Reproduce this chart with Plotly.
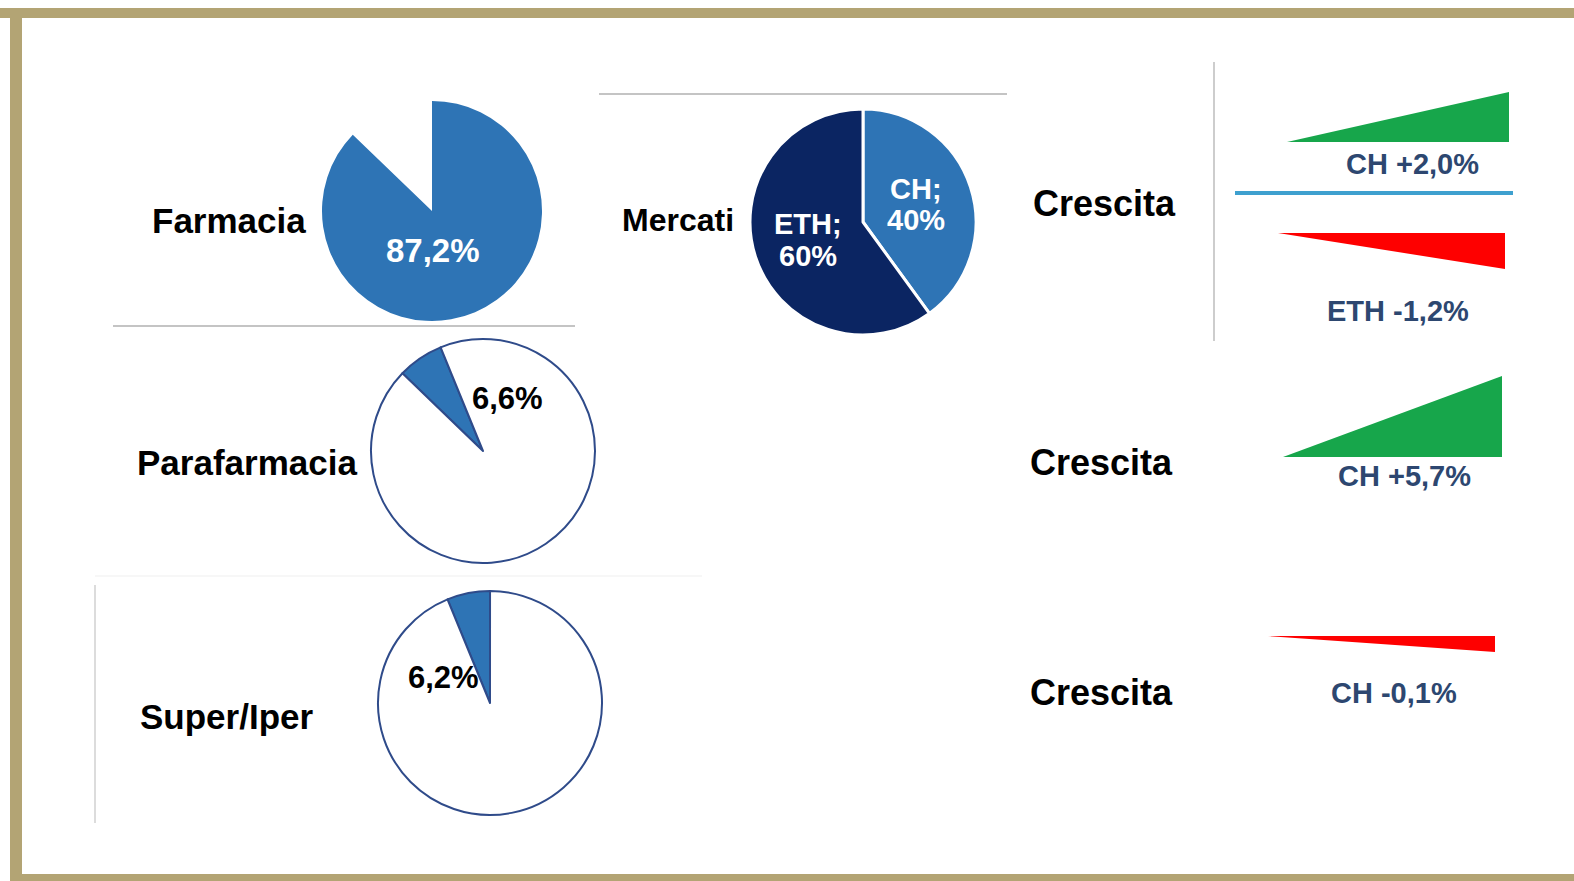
import plotly.graph_objects as go

W, H = 1574, 881

# ---------------- data ----------------
farmacia_labels = ["Farmacia", "Altro"]
farmacia_values = [87.2, 12.8]

mercati_labels = ["CH", "ETH"]
mercati_values = [40, 60]

parafarmacia_labels = ["Parafarmacia", "Altro"]
parafarmacia_values = [6.6, 93.4]

super_labels = ["Super/Iper", "Altro"]
super_values = [6.2, 93.8]

growth_labels = ["CH +2,0%", "ETH -1,2%", "CH +5,7%", "CH -0,1%"]
growth_values = [2.0, -1.2, 5.7, -0.1]

# ---------------- style / positions ----------------
BLUE = "#2e74b5"
NAVY = "#0b2562"
OUTLINE = "#2f4b8a"
GREEN = "#17a64b"
RED = "#fe0000"
GTEXT = "#2d4770"
FONT = "Liberation Sans, Arial, sans-serif"

def dom(cx, cy, r):
    return dict(x=[(cx - r) / W, (cx + r) / W], y=[1 - (cy + r) / H, 1 - (cy - r) / H])

fig = go.Figure()

fig.add_trace(go.Pie(labels=farmacia_labels, values=farmacia_values, sort=False,
                     direction="clockwise", rotation=0, textinfo="none", hoverinfo="label+percent",
                     marker=dict(colors=[BLUE, "rgba(0,0,0,0)"], line=dict(width=0)),
                     domain=dom(432, 211, 110), showlegend=False))

fig.add_trace(go.Pie(labels=mercati_labels, values=mercati_values, sort=False,
                     direction="clockwise", rotation=0, textinfo="none",
                     marker=dict(colors=[BLUE, NAVY], line=dict(color="white", width=3)),
                     domain=dom(863, 222, 113), showlegend=False))

fig.add_trace(go.Pie(labels=parafarmacia_labels, values=parafarmacia_values, sort=False,
                     direction="clockwise", rotation=-46, textinfo="none",
                     marker=dict(colors=[BLUE, "white"], line=dict(color=OUTLINE, width=2)),
                     domain=dom(483, 451, 112), showlegend=False))

fig.add_trace(go.Pie(labels=super_labels, values=super_values, sort=False,
                     direction="clockwise", rotation=-22.3, textinfo="none",
                     marker=dict(colors=[BLUE, "white"], line=dict(color=OUTLINE, width=2)),
                     domain=dom(490, 703, 112), showlegend=False))

# growth wedges: (x_left, x_right, y_base, height) in pixels
wedge_geom = [
    (1287, 1509, 142, 50),
    (1278, 1505, 233, 36),
    (1283, 1502, 457, 81),
    (1268, 1495, 636, 16),
]
for (xl, xr, yb, h), v, lab in zip(wedge_geom, growth_values, growth_labels):
    if v >= 0:
        xs = [xl, xr, xr, xl]
        ys = [yb, yb - h, yb, yb]
        col = GREEN
    else:
        xs = [xl, xr, xr, xl]
        ys = [yb, yb, yb + h, yb]
        col = RED
    fig.add_trace(go.Scatter(x=xs, y=ys, mode="lines", fill="toself", fillcolor=col,
                             line=dict(width=0, color=col), name=lab, showlegend=False,
                             hoverinfo="name", xaxis="x", yaxis="y"))

annotations = []
def txt(x, y, t, size, color="black", bold=True):
    annotations.append(dict(x=x, y=y, xref="x", yref="y", text=f"<b>{t}</b>" if bold else t,
                            showarrow=False, xanchor="center", yanchor="middle",
                            font=dict(family=FONT, size=size, color=color)))

txt(229, 220, "Farmacia", 35)
txt(678, 220, "Mercati", 32)
txt(247, 462, "Parafarmacia", 35)
txt(226, 716, "Super/Iper", 35)
txt(1104, 203, "Crescita", 36)
txt(1101, 462, "Crescita", 36)
txt(1101, 692, "Crescita", 36)

txt(433, 250, "87,2%", 33, "white")
txt(916, 189, "CH;", 29, "white")
txt(916, 220, "40%", 29, "white")
txt(808, 224, "ETH;", 29, "white")
txt(808, 256, "60%", 29, "white")
txt(507, 398, "6,6%", 31)
txt(443, 677, "6,2%", 31)

growth_pos = [(1412, 164), (1398, 311), (1404, 476), (1394, 693)]
for (x, y), lab in zip(growth_pos, growth_labels):
    txt(x, y, lab, 29, GTEXT)

shapes = [
    # frame
    dict(type="rect", xref="x", yref="y", x0=0, x1=W, y0=8, y1=18, fillcolor="#b3a474", line=dict(width=0), layer="below"),
    dict(type="rect", xref="x", yref="y", x0=10, x1=22, y0=8, y1=H, fillcolor="#b3a474", line=dict(width=0), layer="below"),
    dict(type="rect", xref="x", yref="y", x0=10, x1=W, y0=874, y1=H, fillcolor="#b3a474", line=dict(width=0), layer="below"),
    # separators
    dict(type="line", xref="x", yref="y", x0=113, x1=575, y0=326, y1=326, line=dict(color="#c4c4c4", width=2)),
    dict(type="line", xref="x", yref="y", x0=599, x1=1007, y0=94, y1=94, line=dict(color="#c4c4c4", width=2)),
    dict(type="line", xref="x", yref="y", x0=1214, x1=1214, y0=62, y1=341, line=dict(color="#bdbdbd", width=1.5)),
    dict(type="line", xref="x", yref="y", x0=95, x1=95, y0=585, y1=823, line=dict(color="#d0d0d0", width=1.5)),
    dict(type="line", xref="x", yref="y", x0=95, x1=702, y0=576, y1=576, line=dict(color="#f5f5f5", width=1.5)),
    # baseline between CH/ETH growth
    dict(type="line", xref="x", yref="y", x0=1235, x1=1513, y0=193, y1=193, line=dict(color="#3ea0cf", width=4)),
]

fig.update_layout(
    width=W, height=H, margin=dict(l=0, r=0, t=0, b=0),
    paper_bgcolor="white", plot_bgcolor="rgba(0,0,0,0)",
    xaxis=dict(range=[0, W], visible=False, fixedrange=True),
    yaxis=dict(range=[H, 0], visible=False, fixedrange=True),
    annotations=annotations, shapes=shapes, showlegend=False,
)

fig.write_html("out.html")
